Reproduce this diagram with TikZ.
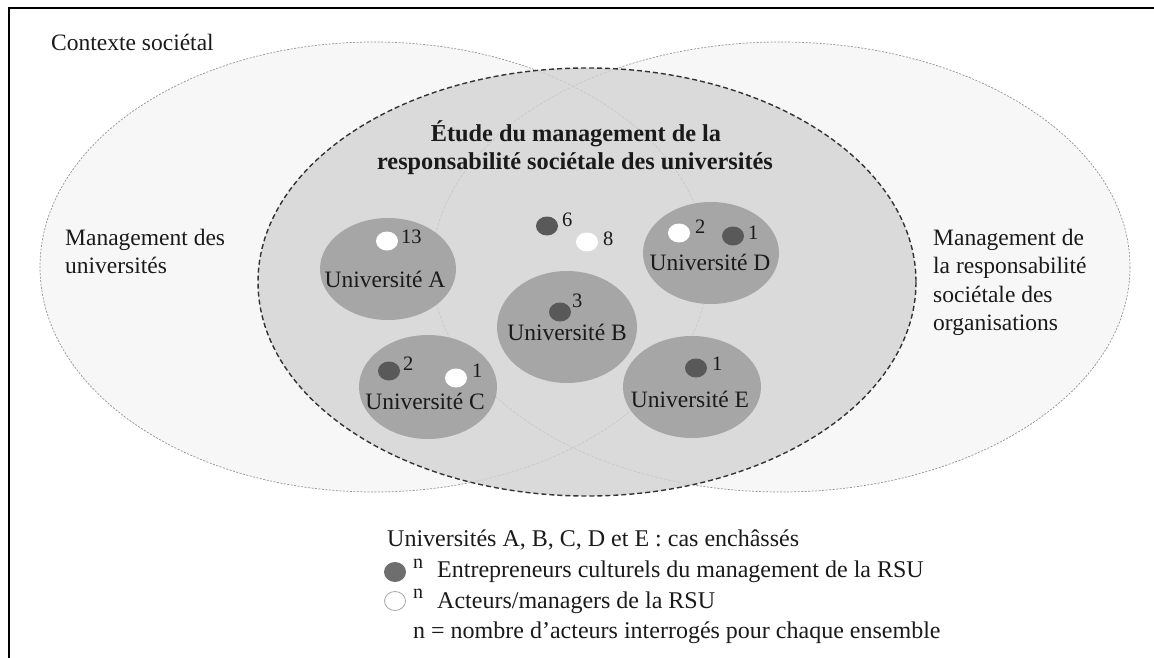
\documentclass[tikz,border=0pt]{standalone}
\usepackage{fontspec}
\setmainfont{Liberation Serif}
\definecolor{outerfill}{HTML}{F7F7F7}
\definecolor{innerfill}{HTML}{DADADA}
\definecolor{unifill}{HTML}{A6A6A6}
\definecolor{darkdot}{HTML}{595959}
\definecolor{legdot}{HTML}{6E6E6E}
\definecolor{txtcol}{HTML}{1A1A1A}
\begin{document}
\begin{tikzpicture}[x=1pt,y=-1pt,
  lbl/.style={font=\fontsize{23.5}{28.5}\selectfont, inner sep=0pt, text=txtcol},
  leg/.style={font=\fontsize{24}{30}\selectfont, inner sep=0pt, text=txtcol},
  num/.style={font=\fontsize{20.5}{24}\selectfont, inner sep=0pt, text=txtcol, anchor=base west},
  supn/.style={font=\fontsize{20}{22}\selectfont, inner sep=0pt, text=txtcol, anchor=base west},
  title/.style={font=\fontsize{24.3}{28}\selectfont\bfseries, inner sep=0pt, text=txtcol, align=center},
  outerline/.style={draw=gray!85, line width=0.7pt, dash pattern=on 2pt off 1.5pt},
  faintline/.style={draw=gray!45, line width=0.6pt, dash pattern=on 3pt off 1.5pt},
  innerline/.style={draw=black!80, line width=1.4pt, dash pattern=on 5pt off 3pt},
  darkspot/.style={fill=darkdot},
  whitespot/.style={fill=white}]
\useasboundingbox (0,0) rectangle (1154,658);
% frame
\draw[line width=1.5pt, black] (9,658) -- (9,8) -- (1154,8);
% outer ellipses
\fill[outerfill] (374,267) ellipse [x radius=334, y radius=225];
\fill[outerfill] (781,267) ellipse [x radius=349, y radius=225];
\path[outerline] (374,267) ellipse [x radius=334, y radius=225];
\path[outerline] (781,267) ellipse [x radius=349, y radius=225];
% inner ellipse
\fill[innerfill] (587,282) ellipse [x radius=329, y radius=214];
\begin{scope}
  \clip (587,282) ellipse [x radius=329, y radius=214];
  \path[faintline] (374,267) ellipse [x radius=334, y radius=225];
  \path[faintline] (781,267) ellipse [x radius=349, y radius=225];
\end{scope}
\path[innerline] (587,282) ellipse [x radius=329, y radius=214];
% universities
\fill[unifill] (388,269) ellipse [x radius=68, y radius=51];
\fill[unifill] (428,387) ellipse [x radius=69, y radius=52];
\fill[unifill] (567,327) ellipse [x radius=70, y radius=56];
\fill[unifill] (711,253) ellipse [x radius=68, y radius=51];
\fill[unifill] (692,387) ellipse [x radius=69, y radius=51];
% dots
\fill[whitespot] (387,241) ellipse [x radius=11, y radius=9.5];
\fill[darkspot] (547,226) ellipse [x radius=11, y radius=9.5];
\fill[whitespot] (587,242) ellipse [x radius=11, y radius=9.5];
\fill[darkspot] (560,312) ellipse [x radius=11, y radius=9.5];
\fill[darkspot] (389,371) ellipse [x radius=11, y radius=9.5];
\fill[whitespot] (456,378) ellipse [x radius=11, y radius=9.5];
\fill[whitespot] (679,233) ellipse [x radius=11, y radius=9.5];
\fill[darkspot] (733,236) ellipse [x radius=11, y radius=9.5];
\fill[darkspot] (696,368) ellipse [x radius=11, y radius=9.5];
% numbers
\node[num] (nA) at (401,243) {13};
\node[num] (n6) at (562,226) {6};
\node[num] (n8) at (603,245) {8};
\node[num] (nB) at (572,307) {3};
\node[num] (nC2) at (403,370) {2};
\node[num] (nC1) at (472,377) {1};
\node[num] (nD2) at (695,233) {2};
\node[num] (nD1) at (748,239) {1};
\node[num] (nE1) at (712,370) {1};
% university labels
\node[lbl, anchor=base] (uA) at (385,287) {Université A};
\node[lbl, anchor=base] (uB) at (567,340) {Université B};
\node[lbl, anchor=base] (uC) at (425,409) {Université C};
\node[lbl, anchor=base] (uD) at (710,270) {Université D};
\node[lbl, anchor=base] (uE) at (690,407) {Université E};
% title
\node[title, anchor=base] (t1) at (576,142) {Étude du management de la};
\node[title, anchor=base] (t2) at (575,170) {responsabilité sociétale des universités};
% side labels
\node[lbl, anchor=base west] (ctx) at (51,51) {Contexte sociétal};
\node[lbl, anchor=base west] (mu1) at (65,245) {Management des};
\node[lbl, anchor=base west] (mu2) at (65,273) {universités};
\node[lbl, anchor=base west] (mr1) at (933,245) {Management de};
\node[lbl, anchor=base west] (mr2) at (933,273) {la responsabilité};
\node[lbl, anchor=base west] (mr3) at (933,302) {sociétale des};
\node[lbl, anchor=base west] (mr4) at (933,330) {organisations};
% legend
\node[leg, anchor=base west] (l1) at (387,546) {Universités A, B, C, D et E : cas enchâssés};
\fill[legdot] (395,572) ellipse [x radius=11, y radius=10];
\node[supn] (ln1) at (413,568) {n};
\node[leg, anchor=base west] (l2) at (437,577) {Entrepreneurs culturels du management de la RSU};
\draw[fill=white, draw=gray!70, line width=0.8pt] (395,601) ellipse [x radius=10.5, y radius=9.5];
\node[supn] (ln2) at (413,598) {n};
\node[leg, anchor=base west] (l3) at (437,608) {Acteurs/managers de la RSU};
\node[leg, anchor=base west] (l4) at (413,638) {n = nombre d’acteurs interrogés pour chaque ensemble};
\end{tikzpicture}
\end{document}
